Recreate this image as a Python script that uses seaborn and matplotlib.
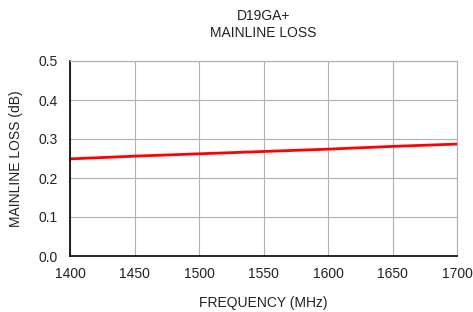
import numpy as np
import pandas as pd
import seaborn as sns
import matplotlib.pyplot as plt

freq = [1400, 1450, 1500, 1550, 1600, 1650, 1700]
loss = [0.249, 0.256, 0.262, 0.268, 0.274, 0.281, 0.287]

df = pd.DataFrame({"freq": freq, "loss": loss})

sns.set_theme(style="whitegrid")
plt.rcParams['font.family'] = ['Liberation Sans', 'DejaVu Sans']

fig = plt.figure(figsize=(4.73, 3.12), dpi=100)
ax = fig.add_axes([70 / 473, (312 - 256) / 312, (457 - 70) / 473, (256 - 61) / 312])

sns.lineplot(data=df, x="freq", y="loss", color="#ff0000", linewidth=2, ax=ax)

ax.set_xlim(1400, 1700)
ax.set_ylim(0, 0.5)
ax.set_xticks([1400, 1450, 1500, 1550, 1600, 1650, 1700])
ax.set_yticks([0, 0.1, 0.2, 0.3, 0.4, 0.5])
ax.set_yticklabels(["0.0", "0.1", "0.2", "0.3", "0.4", "0.5"])
ax.grid(True, color="#b0b0b0", linewidth=0.8)
ax.tick_params(axis="x", labelsize=10, colors="#222222", length=0, pad=8)
ax.tick_params(axis="y", labelsize=10, colors="#222222", length=0, pad=9)

for s in ["top", "right"]:
    ax.spines[s].set_color("#b0b0b0")
    ax.spines[s].set_linewidth(0.8)
for s in ["left", "bottom"]:
    ax.spines[s].set_color("black")
    ax.spines[s].set_linewidth(1.2)

ax.set_xlabel("FREQUENCY (MHz)", fontsize=10, color="#222222", labelpad=11)
ax.set_ylabel("MAINLINE LOSS (dB)", fontsize=10, color="#222222", labelpad=11)
ax.set_title("D19GA+\nMAINLINE LOSS", fontsize=10, color="#222222", pad=17, linespacing=1.35)

fig.savefig("out.png", dpi=100)
